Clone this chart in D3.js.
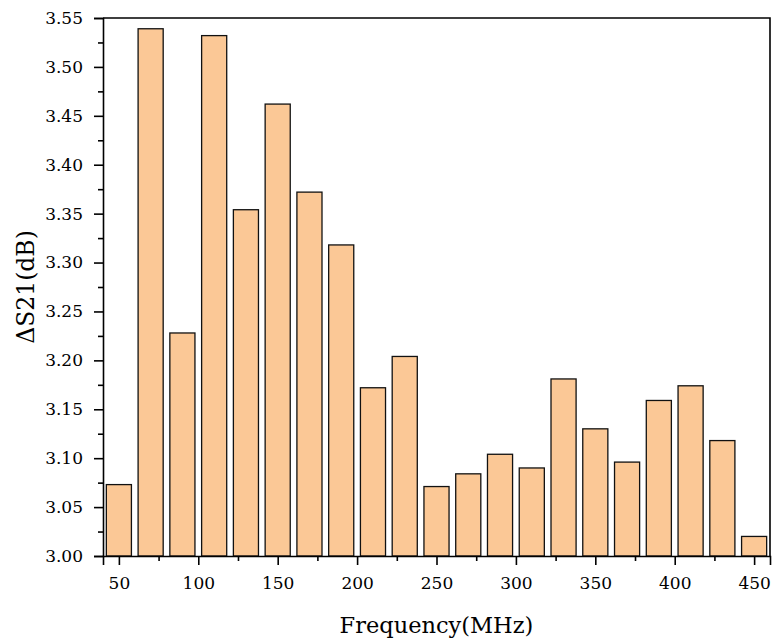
<!DOCTYPE html>
<html>
<head>
<meta charset="utf-8">
<script src="https://cdn.jsdelivr.net/npm/d3@7"></script>
<style>
  html, body { margin: 0; padding: 0; background: #fff; }
  svg { display: block; }
</style>
</head>
<body>
<svg id="chart" width="772" height="644"></svg>
<script>
// Frequency points (MHz) and measured ΔS21 (dB)
const frequencies = [50, 70, 90, 110, 130, 150, 170, 190, 210, 230, 250,
                     270, 290, 310, 330, 350, 370, 390, 410, 430, 450];
const deltaS21 = [3.073, 3.539, 3.228, 3.532, 3.354, 3.462, 3.372, 3.318, 3.172, 3.204, 3.071,
                  3.084, 3.104, 3.090, 3.181, 3.130, 3.096, 3.159, 3.174, 3.118, 3.020];
const xTickValues = [50, 100, 150, 200, 250, 300, 350, 400, 450];
const yTickValues = [3.00, 3.05, 3.10, 3.15, 3.20, 3.25, 3.30, 3.35, 3.40, 3.45, 3.50, 3.55];

const xDomain = [40, 460];
const yDomain = [3.00, 3.55];
const barWidthMHz = 15.8;

const FONT = "DejaVu Serif";

const margin = { left: 103, right: 2, top: 18, bottom: 88 };
const W = 772, H = 644;
const svg = d3.select("#chart").attr("font-family", FONT);

const x = d3.scaleLinear().domain(xDomain).range([margin.left, W - margin.right]);
const y = d3.scaleLinear().domain(yDomain).range([H - margin.bottom, margin.top]);

// Bars
svg.append("g")
  .selectAll("rect")
  .data(frequencies.map((f, i) => ({ f, v: deltaS21[i] })))
  .join("rect")
  .attr("x", d => x(d.f - barWidthMHz / 2))
  .attr("width", d => x(d.f + barWidthMHz / 2) - x(d.f - barWidthMHz / 2))
  .attr("y", d => y(d.v))
  .attr("height", d => y(yDomain[0]) - y(d.v))
  .attr("fill", "#FBC896")
  .attr("stroke", "#111")
  .attr("stroke-width", 1.3);

// Frame (top and right)
svg.append("path")
  .attr("d", `M${x(xDomain[0])},${y(yDomain[1])}H${x(xDomain[1])}V${y(yDomain[0])}`)
  .attr("fill", "none").attr("stroke", "#000").attr("stroke-width", 1.6);

// X axis: labelled major ticks plus unlabelled minor ticks
svg.append("g")
  .attr("transform", `translate(0,${y(yDomain[0])})`)
  .call(d3.axisBottom(x).tickValues(xTickValues).tickFormat(d3.format("d")).tickSize(9).tickPadding(12));
svg.append("g")
  .attr("transform", `translate(0,${y(yDomain[0])})`)
  .call(d3.axisBottom(x).tickValues(d3.range(75, 460, 50)).tickFormat("").tickSize(5))
  .call(g => g.select(".domain").remove());

// Y axis
svg.append("g")
  .attr("transform", `translate(${x(xDomain[0])},0)`)
  .call(d3.axisLeft(y).tickValues(yTickValues).tickFormat(d3.format(".2f")).tickSize(9).tickPadding(11));
svg.append("g")
  .attr("transform", `translate(${x(xDomain[0])},0)`)
  .call(d3.axisLeft(y).tickValues(d3.range(3.025, 3.55, 0.05)).tickFormat("").tickSize(5))
  .call(g => g.select(".domain").remove());

svg.selectAll("g").attr("font-family", FONT).attr("font-size", 17);
svg.selectAll(".domain").attr("stroke", "#000").attr("stroke-width", 1.6);
svg.selectAll(".tick line").attr("stroke", "#000").attr("stroke-width", 1.6);
svg.selectAll(".tick text").attr("font-family", FONT).attr("font-size", 17).attr("fill", "#000");

// Axis titles
svg.append("text")
  .attr("x", (x(xDomain[0]) + x(xDomain[1])) / 2)
  .attr("y", 633)
  .attr("text-anchor", "middle")
  .attr("font-family", FONT)
  .attr("font-size", 22.5)
  .attr("fill", "#000")
  .text("Frequency(MHz)");

svg.append("text")
  .attr("transform", `translate(34,${(y(yDomain[0]) + y(yDomain[1])) / 2}) rotate(-90)`)
  .attr("text-anchor", "middle")
  .attr("font-family", FONT)
  .attr("font-size", 23.5)
  .attr("fill", "#000")
  .text("ΔS21(dB)");
</script>
</body>
</html>
